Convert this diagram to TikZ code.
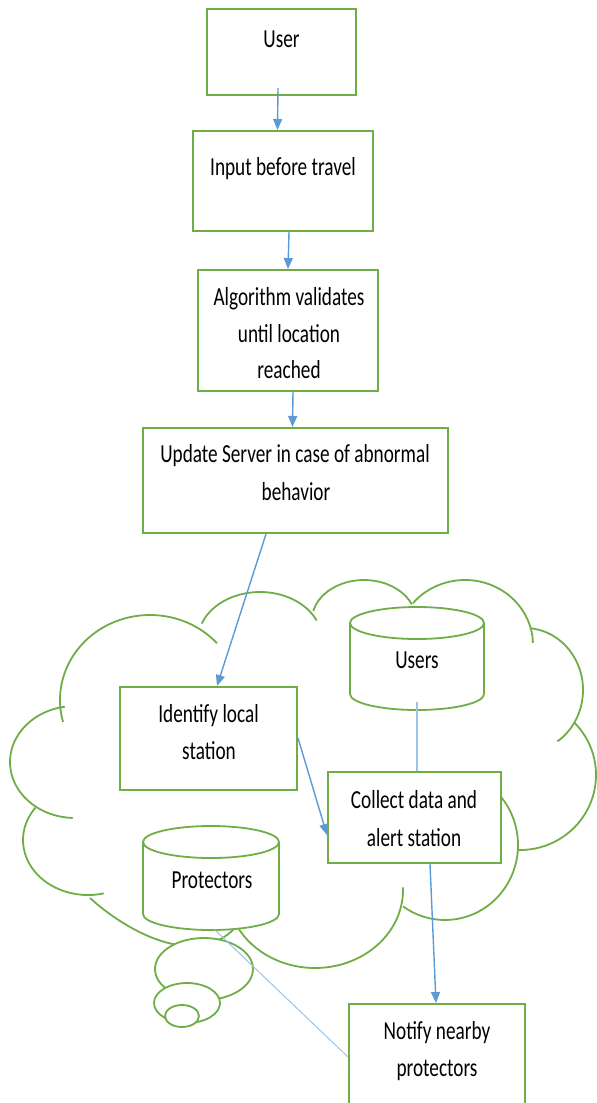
\documentclass[tikz,border=0pt]{standalone}
\usepackage{fontspec}
\setmainfont{Carlito}[FakeStretch=0.74]
\usetikzlibrary{arrows.meta,shapes.geometric}
\definecolor{grn}{HTML}{70AD47}
\definecolor{blu}{HTML}{5B9BD5}
\definecolor{lblu}{HTML}{9DC3E6}
\begin{document}
\begin{tikzpicture}[x=1pt,y=-1pt,
  box/.style={draw=grn, line width=2pt, fill=white, rectangle, inner sep=0pt},
  cl/.style={draw=grn, line width=1.8pt},
  holder/.style={inner sep=0pt, outer sep=0pt},
  bub/.style={draw=grn, line width=1.8pt, fill=white, ellipse, inner sep=0pt},
  txt/.style={anchor=base, inner sep=0pt, font=\fontsize{26}{37.5}\selectfont},
  arr/.style={draw=blu, line width=1.4pt, -{Triangle[length=11pt,width=9pt]}},
  plain/.style={draw=lblu, line width=2pt},
  thin/.style={draw=lblu, line width=1pt},
  ]
\useasboundingbox (0,0) rectangle (597,1103);

% cloud lobes
\draw[cl] (150,700) ++(165:90 and 85) arc[start angle=165,end angle=318,x radius=90,y radius=85];
\draw[cl] (260,640) ++(200:62 and 48) arc[start angle=200,end angle=336,x radius=62,y radius=48];
\draw[cl] (364,620) ++(193:52 and 40) arc[start angle=193,end angle=337,x radius=52,y radius=40];
\draw[cl] (465,645) ++(220:68 and 65) arc[start angle=220,end angle=358,x radius=68,y radius=65];
\draw[cl] (525,690) ++(-85:58 and 62) arc[start angle=-85,end angle=56,x radius=58,y radius=62];
\draw[cl] (520,775) ++(-44:76 and 75) arc[start angle=-44,end angle=92,x radius=76,y radius=75];
\draw[cl] (445,845) ++(-40:73 and 75) arc[start angle=-40,end angle=125,x radius=73,y radius=75];
\draw[cl] (315,890) ++(-2:88 and 78) arc[start angle=-2,end angle=152,x radius=88,y radius=78];
\draw[cl] (90,898) .. controls (125,930) and (195,970) .. (235,928);
\draw[cl] (75,762) ++(261:65 and 56) arc[start angle=261,end angle=92,x radius=65,y radius=56];
\draw[cl] (88,840) ++(216:65 and 55) arc[start angle=216,end angle=76,x radius=65,y radius=55];

% thought bubbles
\node[bub, minimum width=98, minimum height=62] (b1) at (204,969) {};
\node[bub, minimum width=66, minimum height=40] (b2) at (187,1003) {};
\node[bub, minimum width=34, minimum height=22] (b3) at (182,1016) {};

% boxes
\node[box, minimum width=149, minimum height=86] (user) at (281.5,52) {};
\node[box, minimum width=180, minimum height=100] (input) at (283,181) {};
\node[box, minimum width=180, minimum height=121] (algo) at (288,330.5) {};
\node[box, minimum width=305, minimum height=105] (update) at (295.5,480.5) {};
\node[box, minimum width=177, minimum height=103] (ident) at (208.5,738.5) {};
\node[box, minimum width=173, minimum height=91] (collect) at (414.5,817.5) {};
\node[box, minimum width=176, minimum height=120] (notify) at (437,1064) {};

% cylinders
\node[holder, minimum width=134, minimum height=103] (users) at (417,658.5) {};
\filldraw[cl, fill=white] ([yshift=-16pt]users.north west) -- ([yshift=16pt]users.south west)
  arc[start angle=180,end angle=0,x radius=67,y radius=16]
  -- ([yshift=-16pt]users.north east)
  arc[start angle=0,end angle=-180,x radius=67,y radius=16] -- cycle;
\draw[cl] ([yshift=-16pt]users.north east) arc[start angle=0,end angle=180,x radius=67,y radius=16];

\node[holder, minimum width=136, minimum height=104] (prot) at (211,878) {};
\filldraw[cl, fill=white] ([yshift=-16pt]prot.north west) -- ([yshift=16pt]prot.south west)
  arc[start angle=180,end angle=0,x radius=68,y radius=16]
  -- ([yshift=-16pt]prot.north east)
  arc[start angle=0,end angle=-180,x radius=68,y radius=16] -- cycle;
\draw[cl] ([yshift=-16pt]prot.north east) arc[start angle=0,end angle=180,x radius=68,y radius=16];

% texts
\node[txt] (userT) at (281.5,47) {User};
\node[txt] (inputT) at (283,175) {Input before travel};
\node[txt] (algoT1) at (289,305) {Algorithm validates};
\node[txt] (algoT2) at (289,342) {until location};
\node[txt] (algoT3) at (289,378) {reached};
\node[txt] (updT1) at (295,462) {Update Server in case of abnormal};
\node[txt] (updT2) at (296,500) {behavior};
\node[txt] (idT1) at (208.5,722) {Identify local};
\node[txt] (idT2) at (209,759) {station};
\node[txt] (usersT) at (417,668) {Users};
\node[txt] (colT1) at (414,808) {Collect data and};
\node[txt] (colT2) at (414,846) {alert station};
\node[txt] (protT) at (212,888) {Protectors};
\node[txt] (notT1) at (437,1039) {Notify nearby};
\node[txt] (notT2) at (437,1076) {protectors};

% connectors
\draw[arr] ([xshift=-3.5pt,yshift=8pt]user.south) -- ([xshift=-5.5pt]input.north);
\draw[arr] ([xshift=6pt]input.south) -- (algo.north);
\draw[arr] ([xshift=5pt]algo.south) -- ([xshift=-3pt]update.north);
\draw[arr] ([xshift=-29.5pt]update.south) -- ([xshift=8.5pt]ident.north);
\draw[arr] ([yshift=0.5pt]ident.east) -- ([yshift=-17.5pt]collect.west);
\draw[plain] ([yshift=8pt]users.south) -- ([xshift=2.5pt]collect.north);
\draw[arr] ([xshift=15.5pt]collect.south) -- ([xshift=-1pt]notify.north);
\draw[thin] ([xshift=4pt]prot.south) -- ([yshift=7pt]notify.west);
\end{tikzpicture}
\end{document}
